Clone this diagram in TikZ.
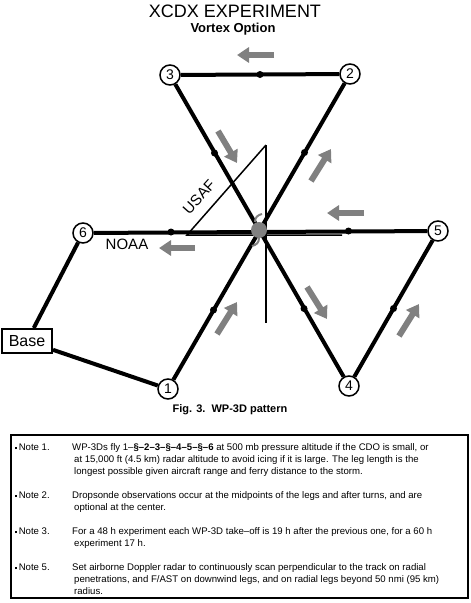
\documentclass[tikz,border=0pt]{standalone}
\usepackage{fontspec}
\setmainfont{Liberation Sans}
\usetikzlibrary{arrows.meta,calc}
\definecolor{ag}{RGB}{128,128,128}
\begin{document}
\begin{tikzpicture}[x=1pt,y=-1pt,
  leg/.style={line width=4pt},
  thinline/.style={line width=2pt},
  num/.style={circle,draw,line width=1.5pt,fill=white,minimum size=20pt,inner sep=0pt,font=\fontsize{14}{14}\selectfont},
  dot/.style={circle,fill=black,minimum size=7pt,inner sep=0pt},
  garrow/.style={draw=ag,line width=6pt,-{Triangle[width=15pt,length=12pt]}},
  notetxt/.style={anchor=base west,inner sep=0pt,font=\fontsize{9.6}{9.6}\selectfont},
]
\useasboundingbox (0,0) rectangle (471,603);
% titles
\node (title) at (235,11) {\fontsize{18}{18}\selectfont XCDX EXPERIMENT};
\node (sub) at (233,29) {\fontsize{13}{13}\selectfont\bfseries Vortex Option};
% center and helpers
\coordinate (c) at (259,231);
\coordinate (vt) at (266,145);
\coordinate (vb) at (266,323);
\coordinate (dl) at (187,235);
\coordinate (dr) at (342,235);
% way-point nodes
\node[num] (n1) at (168,389) {1};
\node[num] (n2) at (350,74) {2};
\node[num] (n3) at (170,75) {3};
\node[num] (n4) at (349,386) {4};
\node[num] (n5) at (438,231) {5};
\node[num] (n6) at (83,233) {6};
\node[draw,line width=2pt,minimum width=50pt,minimum height=24pt,inner sep=0pt,font=\fontsize{16}{16}\selectfont] (base) at (27,341) {Base};
% USAF triangle and vertical line
\draw[thinline] (vt) -- (vb);
\draw[line width=1.5pt] (vt) -- (dl) -- (dr);
% legs
\draw[leg] (n1) -- (n2);
\draw[leg] (n2) -- (n3);
\draw[leg] (n3) -- (n4);
\draw[leg] (n4) -- (n5);
\draw[leg] (n5) -- (n6);
\draw[leg] (n6) -- (base);
\draw[leg] (base) -- (n1);
% midpoint dots
\node[dot] (d1) at ($(n1)!0.5!(c)$) {};
\node[dot] (d2) at ($(c)!0.5!(n2)$) {};
\node[dot] (d3) at ($(n2)!0.5!(n3)$) {};
\node[dot] (d4) at ($(n3)!0.5!(c)$) {};
\node[dot] (d5) at ($(c)!0.5!(n4)$) {};
\node[dot] (d6) at ($(n4)!0.5!(n5)$) {};
\node[dot] (d7) at ($(n5)!0.5!(c)$) {};
\node[dot] (d8) at ($(c)!0.5!(n6)$) {};
% labels
\node[rotate=48,font=\fontsize{15}{15}\selectfont] (usaf) at (199,197) {USAF};
\node[font=\fontsize{15}{15}\selectfont] (noaa) at (127,244) {NOAA};
% storm symbol
\fill[ag] (259,230) circle (8);
\draw[ag,line width=2pt] (255,222) .. controls (255,217) and (258,215) .. (262,214);
\draw[ag,line width=2pt] (259,238) .. controls (259,243) and (256,245) .. (252,246);
% gray motion arrows
\coordinate (a1s) at (274,55); \coordinate (a1e) at (237,55);
\coordinate (a2s) at (218,131); \coordinate (a2e) at (237,163);
\coordinate (a3s) at (311,181); \coordinate (a3e) at (331,149);
\coordinate (a4s) at (364,213); \coordinate (a4e) at (327,213);
\coordinate (a5s) at (195,248); \coordinate (a5e) at (159,248);
\coordinate (a6s) at (217,334); \coordinate (a6e) at (237,302);
\coordinate (a7s) at (307,287); \coordinate (a7e) at (327,319);
\coordinate (a8s) at (399,336); \coordinate (a8e) at (419,304);
\foreach \i in {1,...,8} \draw[garrow] (a\i s) -- (a\i e);
% caption
\node[font=\fontsize{11}{11}\selectfont\bfseries] (cap) at (230,410) {Fig. 3.~~WP-3D pattern};
% notes box
\draw[line width=2pt] (11,435) rectangle (468,598);
\node[notetxt] (l1a) at (15,450) {\rule[1pt]{2pt}{2pt}\,Note 1.};
\node[notetxt] (l1b) at (72,450) {WP-3Ds fly 1–\textbf{§–2–3–§–4–5–§–6} at 500 mb pressure altitude if the CDO is small, or};
\node[notetxt] (l1c) at (74,462) {at 15,000 ft (4.5 km) radar altitude to avoid icing if it is large. The leg length is the};
\node[notetxt] (l1d) at (74,474) {longest possible given aircraft range and ferry distance to the storm.};
\node[notetxt] (l2a) at (15,498) {\rule[1pt]{2pt}{2pt}\,Note 2.};
\node[notetxt] (l2b) at (72,498) {Dropsonde observations occur at the midpoints of the legs and after turns, and are};
\node[notetxt] (l2c) at (74,510) {optional at the center.};
\node[notetxt] (l3a) at (15,534) {\rule[1pt]{2pt}{2pt}\,Note 3.};
\node[notetxt] (l3b) at (72,534) {For a 48 h experiment each WP-3D take–off is 19 h after the previous one, for a 60 h};
\node[notetxt] (l3c) at (74,546) {experiment 17 h.};
\node[notetxt] (l5a) at (15,570) {\rule[1pt]{2pt}{2pt}\,Note 5.};
\node[notetxt] (l5b) at (72,570) {Set airborne Doppler radar to continuously scan perpendicular to the track on radial};
\node[notetxt] (l5c) at (74,582) {penetrations, and F/AST on downwind legs, and on radial legs beyond 50 nmi (95 km)};
\node[notetxt] (l5d) at (74,594) {radius.};
\end{tikzpicture}
\end{document}
